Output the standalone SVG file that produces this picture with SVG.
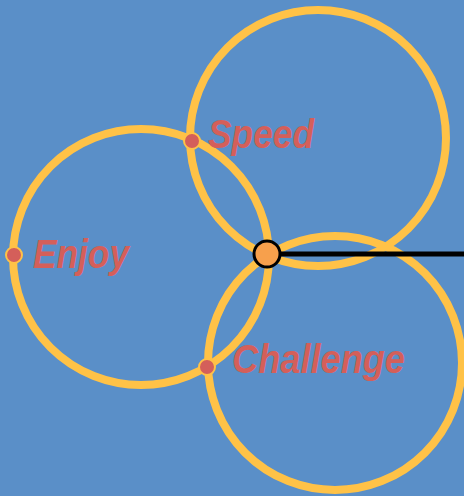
<svg xmlns="http://www.w3.org/2000/svg" width="464" height="496" viewBox="0 0 464 496">
<style>
.ring{fill:none;stroke:#ffc247;stroke-width:8}
.dot{fill:#d45f5a;stroke:#ffc247;stroke-width:2}
.lbl{font-family:"Liberation Sans",Arial,sans-serif;font-weight:bold;font-style:italic;font-size:40px;fill:#d45f5a}
</style>
<rect width="464" height="496" fill="#5a8fc8"/>
<g id="rings">
<circle class="ring" cx="141" cy="257" r="128"/>
<circle class="ring" cx="318" cy="138" r="128"/>
<circle class="ring" cx="335" cy="363" r="127"/>
</g>
<g id="connectors">
<line x1="267" y1="254" x2="464" y2="254" stroke="#000" stroke-width="5"/>
</g>
<g id="hub"><circle cx="267" cy="254" r="13" fill="#f7a04c" stroke="#000" stroke-width="3"/></g>
<g id="speed"><circle class="dot" cx="192" cy="141" r="8"/><text class="lbl" x="208" y="148" textLength="106" lengthAdjust="spacingAndGlyphs">Speed</text></g>
<g id="enjoy"><circle class="dot" cx="14" cy="255" r="8"/><text class="lbl" x="33" y="268" textLength="96" lengthAdjust="spacingAndGlyphs">Enjoy</text></g>
<g id="challenge"><circle class="dot" cx="207" cy="367" r="8"/><text class="lbl" x="232" y="373" textLength="173" lengthAdjust="spacingAndGlyphs">Challenge</text></g>
</svg>
